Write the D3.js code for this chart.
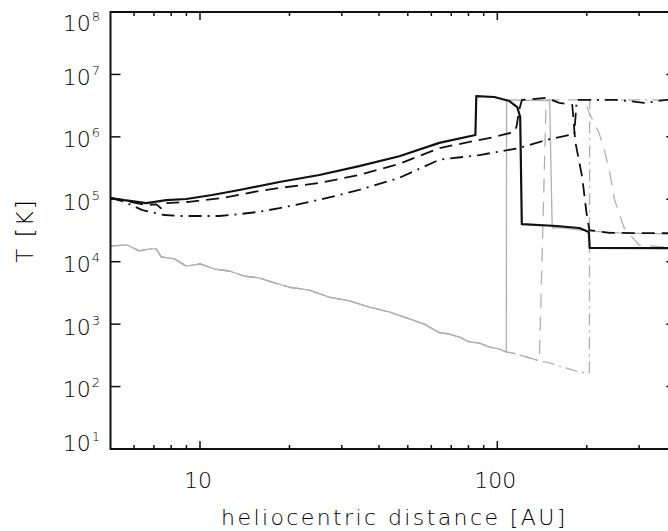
<!DOCTYPE html>
<html>
<head>
<meta charset="utf-8">
<script src="https://cdn.jsdelivr.net/npm/d3@7/dist/d3.min.js"></script>
<style>
  html, body { margin: 0; padding: 0; background: #fff; }
  svg { display: block; }
  .lbl { font-family: "DejaVu Sans", sans-serif; font-weight: 200; fill: #000; }
</style>
</head>
<body>
<svg id="chart" width="668" height="531"></svg>
<script>
// Temperature profiles versus heliocentric distance, [AU, K] pairs.
// Shared upstream solar-wind path of the grey curves.
const swUpstream = [
  [5.0, 1.79e4], [5.69, 1.85e4], [6.25, 1.49e4], [6.75, 1.6e4], [7.13, 1.6e4],
  [7.41, 1.19e4], [8.2, 1.11e4], [8.99, 8.5e3], [10, 9.2e3], [11.2, 7.6e3],
  [12.55, 7.1e3], [14.1, 5.9e3], [15.8, 5.5e3], [17.8, 4.6e3], [20.0, 3.9e3],
  [23.3, 3.5e3], [27.2, 2.7e3], [31.8, 2.35e3], [37.1, 1.88e3], [43.3, 1.57e3],
  [50.6, 1.21e3], [56.8, 1.0e3], [63.8, 730], [68.9, 695], [74.5, 622],
  [80.5, 518], [87.0, 499], [94.0, 430], [101.5, 400], [107.2, 358]
];
const swUpstreamMid = [[112.3, 345], [125.2, 298], [138.5, 257]];
const swUpstreamOuter = [[149.6, 239], [165.5, 206], [188.8, 171], [204, 165]];

const greySolidDown = [
  [107.5, 3.9e6], [150, 3.8e6], [153, 3.5e4], [165.5, 3.5e4], [204, 3.1e4],
  [257, 2.9e4], [370, 2.8e4], [400, 2.8e4]
];
const greyDashedDown = [
  [146, 3.9e6], [196, 3.9e6], [204, 2.4e6], [220, 1.15e6], [229, 6.2e5],
  [238, 2.95e5], [248, 9.8e4], [267, 3.5e4], [300, 1.85e4], [370, 1.7e4], [400, 1.7e4]
];
const greyDashDotDown = [[204.5, 3.9e6], [400, 3.9e6]];

const blackSolid = [
  [5.0, 1.05e5], [5.56, 9.7e4], [6.6, 8.7e4], [7.7, 9.7e4], [8.99, 1.01e5],
  [10.98, 1.17e5], [13.56, 1.41e5], [18.5, 1.89e5], [25.2, 2.45e5], [34.3, 3.4e5],
  [46.8, 4.9e5], [63.8, 8.0e5], [84.4, 1.07e6], [85.0, 4.5e6], [97.7, 4.35e6],
  [109.8, 3.75e6], [116.7, 3.0e6], [119.4, 2.08e6], [120.9, 4.0e4], [158, 3.73e4],
  [188.8, 3.47e4], [203.2, 2.99e4], [204.5, 1.66e4], [400, 1.65e4]
];
const blackDashed = [
  [5.0, 1.05e5], [5.56, 9.5e4], [6.6, 8.1e4], [7.13, 8.3e4], [7.4, 7.2e4],
  [7.7, 8.7e4], [9.2, 9.1e4], [11.9, 1.05e5], [15.8, 1.36e5], [18.5, 1.52e5],
  [25.2, 1.82e5], [34.3, 2.45e5], [46.8, 3.7e5], [63.8, 6.6e5], [83.6, 8.6e5],
  [97.7, 9.95e5], [114, 1.2e6], [116, 1.44e6], [118.5, 2.7e6], [121, 3.9e6],
  [146, 4.2e6], [161.6, 3.5e6], [178.7, 3.24e6], [183, 8.3e5], [193, 2.27e5],
  [199.3, 6.3e4], [204, 3.2e4], [238, 2.9e4], [400, 2.85e4]
];
const blackDashDot = [
  [5.0, 1.05e5], [5.56, 9.1e4], [6.4, 6.7e4], [7.57, 5.6e4], [8.5, 5.4e4],
  [10, 5.4e4], [11.6, 5.4e4], [13.6, 5.8e4], [15.8, 6.3e4], [18.5, 7.2e4],
  [25.2, 9.8e4], [34.3, 1.41e5], [46.8, 2.2e5], [63.8, 4.3e5], [87, 5.1e5],
  [118, 6.6e5], [146, 8.9e5], [181.5, 1.11e6], [185, 3.9e6], [257, 3.9e6],
  [312, 3.5e6], [370, 3.9e6], [400, 3.9e6]
];

const xTickValues = [10, 100];
const xMinorTicks = [6, 7, 8, 9, 20, 30, 40, 50, 60, 70, 80, 90, 200, 300];
const yTickExponents = [1, 2, 3, 4, 5, 6, 7, 8];

const svg = d3.select("#chart");
const plotLeft = 110.5, plotTop = 12, plotBottom = 449;
const decadePx = 297.3;
const plotRight = plotLeft + decadePx * Math.log10(400 / 5);

const x = d3.scaleLog().domain([5, 400]).range([plotLeft, plotRight]);
const y = d3.scaleLog().domain([10, 1e8]).range([plotBottom, plotTop]);

svg.append("defs").append("clipPath").attr("id", "plotclip")
  .append("rect").attr("x", plotLeft).attr("y", plotTop)
  .attr("width", plotRight - plotLeft).attr("height", plotBottom - plotTop);

const plot = svg.append("g").attr("clip-path", "url(#plotclip)");
const line = d3.line().x(d => x(d[0])).y(d => y(d[1]));

const series = [
  { data: swUpstream.concat(greySolidDown), color: "#b0b0b0", w: 1.3, dash: null },
  { data: swUpstream.concat(swUpstreamMid, greyDashedDown), color: "#b0b0b0", w: 1.3, dash: "14,9" },
  { data: swUpstream.concat(swUpstreamMid, swUpstreamOuter, greyDashDotDown), color: "#b0b0b0", w: 1.3, dash: "12,5,2,5" },
  { data: blackDashDot, color: "#111", w: 1.8, dash: "13,6,2,6" },
  { data: blackDashed, color: "#111", w: 1.8, dash: "13,7" },
  { data: blackSolid, color: "#111", w: 2.2, dash: null }
];

series.forEach(s => {
  plot.append("path")
    .attr("d", line(s.data))
    .attr("fill", "none")
    .attr("stroke", s.color)
    .attr("stroke-width", s.w)
    .attr("stroke-linejoin", "round")
    .attr("stroke-dasharray", s.dash);
});

// Frame
const axisColor = "#111";
svg.append("rect").attr("x", plotLeft).attr("y", plotTop)
  .attr("width", plotRight - plotLeft).attr("height", plotBottom - plotTop)
  .attr("fill", "none").attr("stroke", axisColor).attr("stroke-width", 2);

// Inward ticks on all four sides
const yTicks = yTickExponents.map(e => Math.pow(10, e));
const tickG = svg.append("g").attr("stroke", axisColor).attr("stroke-width", 1.5);
yTicks.forEach(v => {
  tickG.append("line").attr("x1", plotLeft).attr("x2", plotLeft + 10).attr("y1", y(v)).attr("y2", y(v));
  tickG.append("line").attr("x1", plotRight).attr("x2", plotRight - 10).attr("y1", y(v)).attr("y2", y(v));
});
xTickValues.forEach(v => {
  tickG.append("line").attr("x1", x(v)).attr("x2", x(v)).attr("y1", plotBottom).attr("y2", plotBottom - 8);
  tickG.append("line").attr("x1", x(v)).attr("x2", x(v)).attr("y1", plotTop).attr("y2", plotTop + 8);
});
xMinorTicks.forEach(v => {
  tickG.append("line").attr("x1", x(v)).attr("x2", x(v)).attr("y1", plotBottom).attr("y2", plotBottom - 4);
  tickG.append("line").attr("x1", x(v)).attr("x2", x(v)).attr("y1", plotTop).attr("y2", plotTop + 4);
});

// Y tick labels 10^n
yTickExponents.forEach(e => {
  let cy = y(Math.pow(10, e)) + 2;
  cy = Math.max(plotTop + 10, Math.min(plotBottom - 7, cy));
  const t = svg.append("text").attr("class", "lbl")
    .attr("x", 100).attr("y", cy + 8.5)
    .attr("text-anchor", "end").attr("font-size", 22);
  t.append("tspan").text("10");
  t.append("tspan").attr("dy", -10).attr("dx", 1).attr("font-size", 13).text(e);
});

// X tick labels
xTickValues.forEach(v => {
  svg.append("text").attr("class", "lbl")
    .attr("x", x(v) - 2).attr("y", 488)
    .attr("text-anchor", "middle").attr("font-size", 22)
    .text(v);
});

// Axis titles
svg.append("text").attr("class", "lbl")
  .attr("x", (plotLeft + plotRight) / 2 + 1).attr("y", 525)
  .attr("text-anchor", "middle").attr("font-size", 22)
  .attr("letter-spacing", 2.4)
  .text("heliocentric distance [AU]");

svg.append("text").attr("class", "lbl")
  .attr("transform", `translate(33, ${(plotTop + plotBottom) / 2}) rotate(-90)`)
  .attr("text-anchor", "middle").attr("font-size", 23)
  .attr("letter-spacing", 2)
  .text("T [K]");
</script>
</body>
</html>
